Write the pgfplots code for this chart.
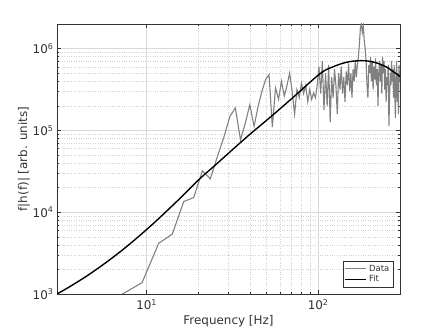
\documentclass[border=0pt]{standalone}
\usepackage{pgfplots}
\pgfplotsset{compat=1.18}
\usepackage{fontspec}
\setmainfont{DejaVu Sans}
\pgfplotstableread{
x y
7.05 970
9.40 1377
11.75 4170
14.10 5380
16.45 13500
18.80 15100
21.15 32100
23.50 25600
25.85 48000
28.20 82800
30.55 148000
32.90 188000
35.25 76900
37.60 123000
39.95 206000
42.30 112000
44.65 197000
47.00 301000
49.35 417000
51.70 481000
54.05 110000
56.40 330000
58.75 240000
61.10 398000
63.45 263000
65.80 355000
68.15 501000
70.50 302000
72.85 158000
75.20 316000
77.55 251000
79.90 380000
82.25 282000
84.60 355000
86.95 224000
89.30 316000
91.65 240000
94.00 288000
96.35 251000
98.70 355000
101.05 603000
103.40 282000
105.75 708000
108.10 178000
110.45 501000
112.80 200000
115.15 631000
117.50 126000
119.85 447000
122.20 251000
124.55 562000
126.90 355000
129.25 158000
131.60 501000
133.95 316000
136.30 603000
138.65 282000
141.00 447000
143.35 224000
145.70 525000
148.05 355000
150.40 661000
152.75 302000
155.10 501000
157.45 251000
159.80 562000
162.15 398000
164.50 708000
166.85 447000
169.20 631000
171.55 794000
173.90 1120000
176.25 1780000
178.60 2000000
180.95 1580000
183.30 1910000
185.65 1260000
188.00 1000000
190.35 708000
192.70 355000
195.05 251000
197.40 631000
199.75 501000
202.10 794000
204.45 398000
206.80 708000
209.15 316000
211.50 603000
213.85 417000
216.20 759000
218.55 355000
220.90 562000
223.25 200000
225.60 501000
227.95 708000
230.30 398000
232.65 631000
235.00 282000
237.35 794000
239.70 501000
242.05 708000
244.40 316000
246.75 562000
249.10 224000
251.45 447000
253.80 355000
256.15 631000
258.50 112000
260.85 251000
263.20 501000
265.55 355000
267.90 708000
270.25 398000
272.60 562000
274.95 251000
277.30 631000
279.65 316000
282.00 141000
284.35 447000
286.70 708000
289.05 224000
291.40 501000
293.75 158000
296.10 631000
298.45 398000
300.80 447000
}\datatable
\pgfplotstableread{
x y
3.000 1000
3.548 1224
4.467 1656
5.623 2317
7.079 3342
8.913 4977
11.22 7638
12.59 9572
15.85 15170
19.95 24550
25.12 37670
31.62 58080
39.81 88920
50.12 133400
63.10 201800
79.43 309000
89.13 384600
100.0 473200
109.6 543300
120.2 591600
131.8 638300
144.5 676100
158.5 701500
179.9 712900
199.5 699800
223.9 659200
251.2 591600
281.8 501200
300.0 457100
}\fittable
\begin{document}
\begin{tikzpicture}
\begin{axis}[
  at={(0,0)}, anchor=south west,
  width=343bp, height=270bp, scale only axis,
  xmode=log, ymode=log,
  xmin=3, xmax=300, ymin=1000, ymax=2e6,
  xtick={10,100}, xticklabels={10\textsuperscript{1},10\textsuperscript{2}},
  ytick={1e3,1e4,1e5,1e6},
  yticklabels={10\textsuperscript{3},10\textsuperscript{4},10\textsuperscript{5},10\textsuperscript{6}},
  grid=both,
  major grid style={black!15, line width=0.5pt},
  minor grid style={black!18, dotted, line width=0.5pt},
  axis line style={black!80, line width=0.5pt},
  tick style={black!80, line width=0.5pt},
  major tick length=4bp, minor tick length=2bp,
  tick align=inside,
  xlabel={Frequency [Hz]},
  ylabel={f|h(f)| [arb. units]},
  tick label style={font=\fontsize{12}{14}\selectfont, text=black!80},
  label style={font=\fontsize{12}{14}\selectfont, text=black!80},
  xticklabel style={yshift=-2bp},
  xlabel style={yshift=1bp},
  ylabel style={yshift=-4bp},
  legend style={at={(0.98,0.025)}, anchor=south east,
    font=\fontsize{8.5}{10}\selectfont, draw=black!80, line width=0.6pt,
    inner sep=1.5pt, row sep=-1pt, text=black!80},
  legend cell align=left,
  legend image code/.code={\draw[#1] (0cm,0cm) -- (0.75cm,0cm);},
]
\addplot[color=black!50, line width=1.1pt] table[x=x,y=y] {\datatable};
\addlegendentry{Data}
\addplot[color=black, line width=1.4pt, smooth] table[x=x,y=y] {\fittable};
\addlegendentry{Fit}
\end{axis}
\pgfresetboundingbox
\path (-57bp,-38bp) rectangle (386bp,294bp);
\end{tikzpicture}
\end{document}
